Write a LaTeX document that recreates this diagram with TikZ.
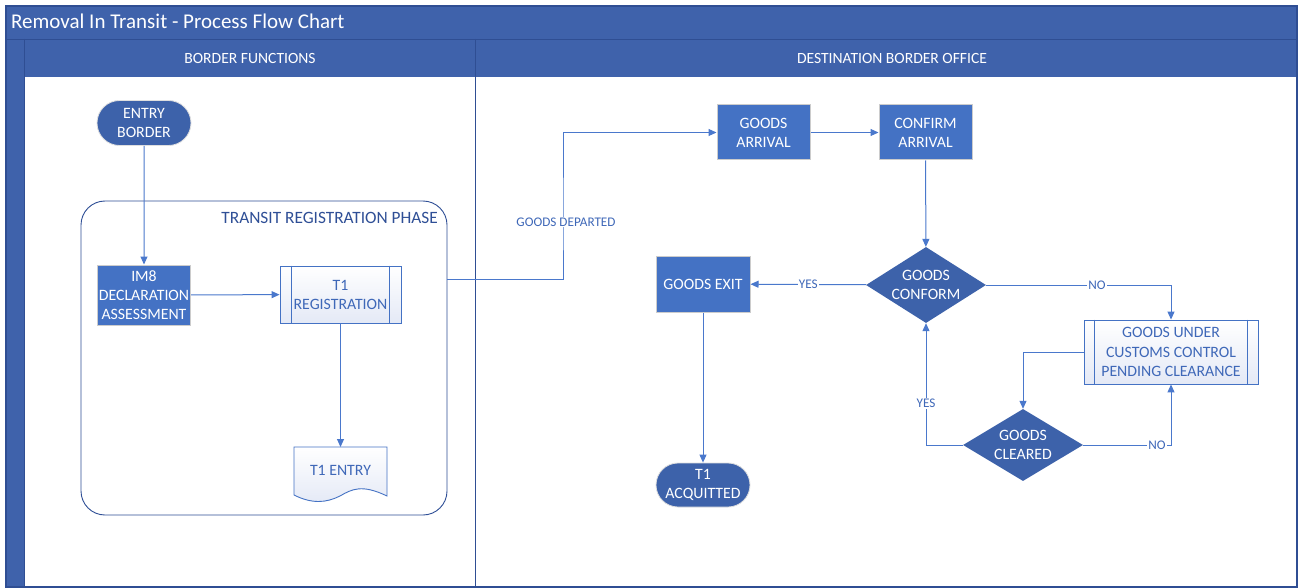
\documentclass[tikz,border=0pt]{standalone}
\usepackage{fontspec}
\setmainfont{Carlito}
\usetikzlibrary{shapes.geometric,shapes.misc,arrows.meta}
\definecolor{band}{HTML}{3F62AB}
\definecolor{bandline}{HTML}{2F4E93}
\definecolor{proc}{HTML}{4472C4}
\definecolor{term}{HTML}{3D62AA}
\definecolor{link}{HTML}{4A78CC}
\definecolor{ink}{HTML}{3F68B8}
\definecolor{grp}{HTML}{2F4F96}
\definecolor{pale}{HTML}{E4E9F6}
\tikzset{
  every node/.style={font=\fontsize{15.8}{19}\selectfont, align=center, inner sep=0pt},
  procbox/.style={rectangle, fill=proc, draw=gray!40, line width=1pt, text=white, minimum width=93pt, minimum height=56pt},
  termbox/.style={rounded rectangle, fill=term, draw=gray!25, line width=0.8pt, text=white, minimum width=94pt, minimum height=45pt},
  decide/.style={diamond, aspect=1.58, fill=term, text=white, inner sep=0pt},
  predef/.style={rectangle, draw=proc, line width=0.9pt, text=ink, top color=white, bottom color=pale},
  flow/.style={draw=link, line width=1pt, -{Triangle[length=8pt,width=7pt]}},
  tag/.style={font=\fontsize{13.2}{15}\selectfont, text=ink, fill=white, inner sep=1pt},
}
\begin{document}
\begin{tikzpicture}[x=1pt,y=-1pt]
\useasboundingbox (0,0) rectangle (1298,588);
% frame and bands
\fill[white] (0,0) rectangle (1298,588);
\fill[band] (6,6) rectangle (1297,77);
\fill[band] (6,6) rectangle (24,587);
\draw[bandline, line width=0.8pt] (6,39) -- (1297,39);
\draw[bandline, line width=0.8pt] (24,39) -- (24,587);
\draw[bandline, line width=0.8pt] (475,39) -- (475,587);
\draw[bandline, line width=1.6pt] (6,6) rectangle (1297,587);
\node[anchor=west, text=white, font=\fontsize{21}{24}\selectfont] (title) at (11,21) {Removal In Transit - Process Flow Chart};
\node[text=white, font=\fontsize{15.6}{18}\selectfont] (laneA) at (250,58) {BORDER FUNCTIONS};
\node[text=white, font=\fontsize{15.6}{18}\selectfont] (laneB) at (892,58) {DESTINATION BORDER OFFICE};

% transit registration group
\draw[grp, line width=0.9pt, rounded corners=24pt] (81,201) rectangle (447,515);
\coordinate (grpE) at (447,279);
\node[anchor=east, text=grp, font=\fontsize{17.3}{20}\selectfont] (grpT) at (438,218) {TRANSIT REGISTRATION PHASE};

% left lane
\node[termbox] (entry) at (144,123) {ENTRY\\BORDER};
\node[procbox, minimum height=60pt] (im8) at (144,295) {IM8\\DECLARATION\\ASSESSMENT};
\node[predef, minimum width=121pt, minimum height=57pt] (t1reg) at (340.5,294.5) {T1\\REGISTRATION};
\draw[proc, line width=0.9pt] ([xshift=12pt]t1reg.north west) -- ([xshift=12pt]t1reg.south west)
  ([xshift=-12pt]t1reg.north east) -- ([xshift=-12pt]t1reg.south east);
% document shape
\shade[top color=white, bottom color=pale, draw=proc, line width=0.9pt]
  (294,447) -- (387,447) -- (387,496)
  .. controls (362,484) and (352,489) .. (340,496)
  .. controls (326,503) and (312,504) .. (294,495) -- cycle;
\node[text=ink] (t1entry) at (340.5,470) {T1 ENTRY};
\coordinate (t1entryTop) at (340.5,447);

% right lane
\node[procbox, minimum height=55pt] (arr) at (763.5,132.5) {GOODS\\ARRIVAL};
\node[procbox, minimum height=55pt] (conf) at (925.5,132.5) {CONFIRM\\ARRIVAL};
\node[decide, minimum width=120pt, minimum height=76pt] (conform) at (926,285) {GOODS\\CONFORM};
\node[procbox, minimum width=94pt, minimum height=56pt] (exit) at (703,284) {GOODS EXIT};
\node[termbox, minimum height=44pt] (acq) at (703,485) {T1\\ACQUITTED};
\node[predef, minimum width=174pt, minimum height=64pt, font=\fontsize{15.8}{19.5}\selectfont] (hold) at (1171,352) {GOODS UNDER\\CUSTOMS CONTROL\\PENDING CLEARANCE};
\draw[proc, line width=0.9pt] ([xshift=11pt]hold.north west) -- ([xshift=11pt]hold.south west)
  ([xshift=-11pt]hold.north east) -- ([xshift=-11pt]hold.south east);
\node[decide, minimum width=120pt, minimum height=72pt] (cleared) at (1023,445) {GOODS\\CLEARED};

% connectors
\draw[flow] (entry) -- (im8);
\draw[flow] (im8) -- (t1reg);
\draw[flow] (t1reg) -- (t1entryTop);
\draw[flow] (grpE) -| (563,222) |- (arr);
\node[tag] (lblDep) at (566,222) {GOODS DEPARTED};
\draw[flow] (arr) -- (conf);
\draw[flow] (conf) -- (conform);
\draw[flow] (conform) -- node[tag, pos=0.5] (lblY1) {YES} (exit);
\draw[flow] (conform.east) -| node[tag, pos=0.3] (lblN1) {NO} (hold.north);
\draw[flow] (hold.west) -| (cleared.north);
\draw[flow] (cleared.west) -| node[tag, pos=0.67] (lblY2) {YES} (conform.south);
\draw[flow] (cleared.east) -| node[tag, pos=0.42] (lblN2) {NO} (hold.south);
\draw[flow] (exit) -- (acq);
\end{tikzpicture}
\end{document}
